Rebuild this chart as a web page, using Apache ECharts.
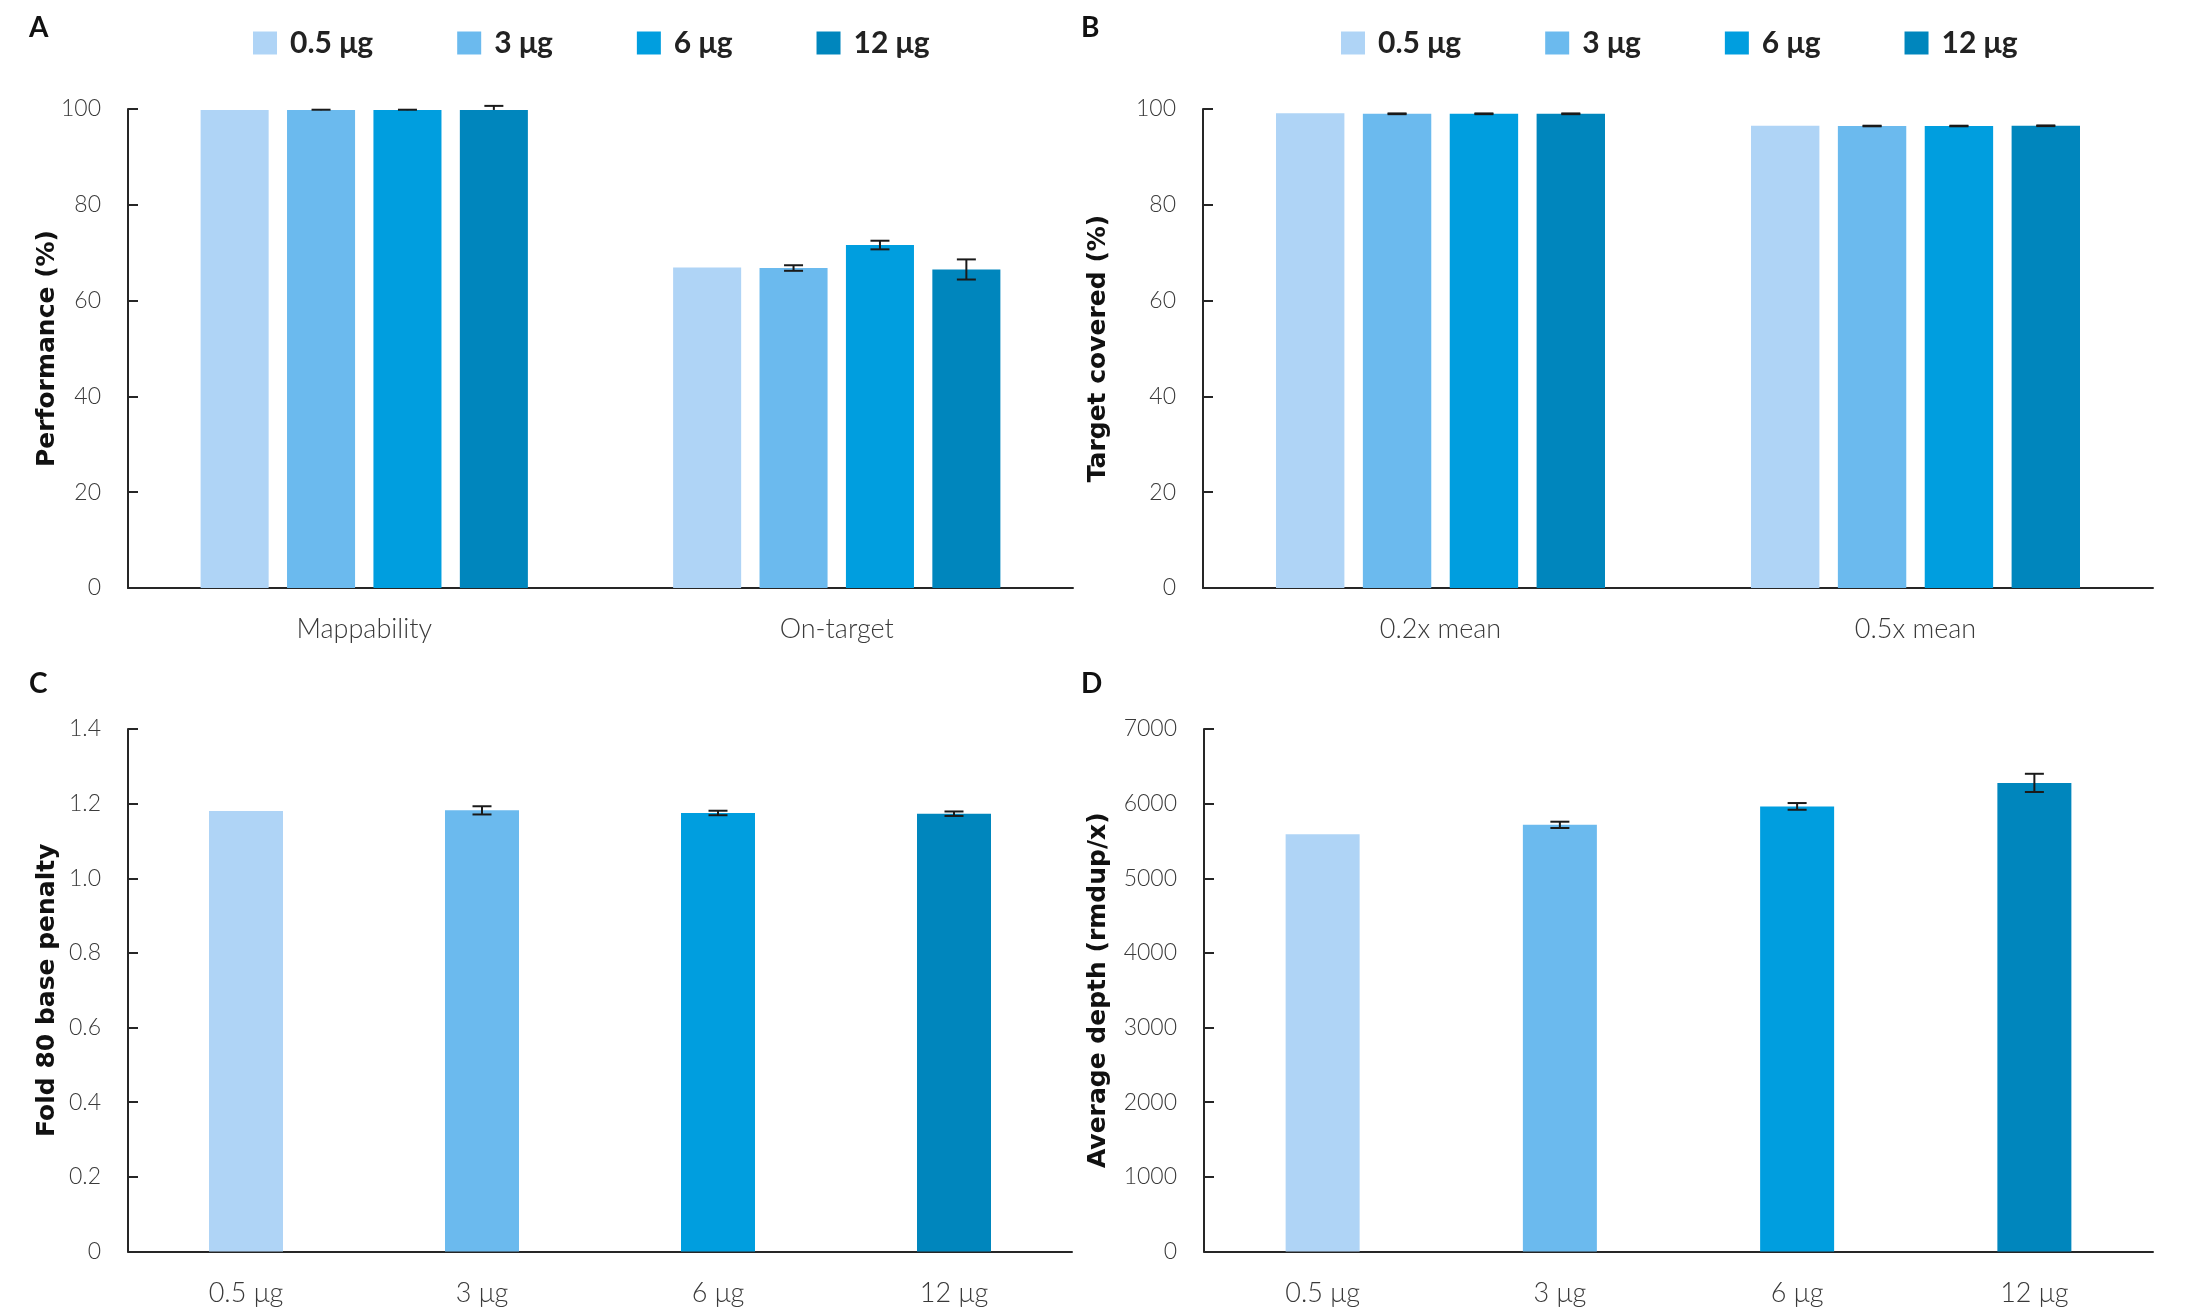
<!DOCTYPE html>
<html><head><meta charset="utf-8">
<script src="https://cdn.jsdelivr.net/npm/echarts@6/dist/echarts.min.js"></script>
<style>html,body{margin:0;padding:0;background:#fff}#c{width:2198px;height:1307px}</style>
</head><body><div id="c"></div>
<script>
// ---------- data ----------
const doses = ['0.5 μg', '3 μg', '6 μg', '12 μg'];
const doseColors = ['#AFD4F6', '#6BBAEE', '#009EDF', '#0086BD'];

// Panel A: Performance (%)
const catA = ['Mappability', 'On-target'];
const valA_05 = [99.8, 66.9];
const valA_3 = [99.8, 66.8];
const valA_6 = [99.8, 71.6];
const valA_12 = [99.8, 66.5];
const errUpA_05 = [0, 0];
const errUpA_3 = [0.05, 0.58];
const errUpA_6 = [0.05, 0.9];
const errUpA_12 = [0.85, 2.1];
const errDnA_05 = [0, 0];
const errDnA_3 = [0.05, 0.58];
const errDnA_6 = [0.05, 0.9];
const errDnA_12 = [0, 2.1];

// Panel B: Target covered (%)
const catB = ['0.2x mean', '0.5x mean'];
const valB_05 = [99.1, 96.5];
const valB_3 = [99.0, 96.45];
const valB_6 = [99.0, 96.45];
const valB_12 = [99.0, 96.5];
const errB_05 = [0, 0];
const errB_3 = [0.08, 0.06];
const errB_6 = [0.08, 0.06];
const errB_12 = [0.08, 0.07];

// Panel C: Fold 80 base penalty
const valC = [1.180, 1.182, 1.175, 1.173];
const errC = [0, 0.011, 0.006, 0.006];

// Panel D: Average depth (rmdup/x)
const valD = [5591, 5716, 5963, 6278];
const errD = [0, 42, 45, 122];

// ---------- helpers ----------
const AXIS_COLOR = '#262626';
const LABEL_COLOR = '#3a3a3a';
const LIGHT = 'Lato, "Liberation Sans", sans-serif';
const BARPCT = 0.144, GAPPCT = 0.27;

function groupedErr(gridIdx, sIdx, nS, vals, up, dn) {
  const data = vals.map((v, i) => [i, v - dn[i], v + up[i], up[i] + dn[i]]).filter(d => d[3] > 0);
  return {
    type: 'custom', xAxisIndex: gridIdx, yAxisIndex: gridIdx, z: 10, clip: false,
    silent: true, tooltip: {show: false},
    data: data,
    encode: {x: 0, y: [1, 2]},
    renderItem: function (params, api) {
      const c = api.value(0);
      const lo = api.coord([c, api.value(1)]);
      const hi = api.coord([c, api.value(2)]);
      const band = api.size([1, 0])[0];
      const bw = band * BARPCT, step = bw * (1 + GAPPCT);
      const x = lo[0] + (sIdx - (nS - 1) / 2) * step;
      const cap = 9.5;
      const st = {stroke: '#1a1a1a', lineWidth: 2};
      const kids = [
        {type: 'line', shape: {x1: x, y1: lo[1], x2: x, y2: hi[1]}, style: st},
        {type: 'line', shape: {x1: x - cap, y1: hi[1], x2: x + cap, y2: hi[1]}, style: st}
      ];
      if (api.value(1) < api.value(2) - 1e-9 && Math.abs(lo[1] - hi[1]) > 0.5 && dn[c] > 0) {
        kids.push({type: 'line', shape: {x1: x - cap, y1: lo[1], x2: x + cap, y2: lo[1]}, style: st});
      }
      return {type: 'group', children: kids};
    }
  };
}
function singleErr(gridIdx, vals, err) {
  const data = vals.map((v, i) => [i, v - err[i], v + err[i], err[i]]).filter(d => d[3] > 0);
  return {
    type: 'custom', xAxisIndex: gridIdx, yAxisIndex: gridIdx, z: 10, clip: false, silent: true,
    data: data, encode: {x: 0, y: [1, 2]},
    renderItem: function (params, api) {
      const c = api.value(0);
      const lo = api.coord([c, api.value(1)]);
      const hi = api.coord([c, api.value(2)]);
      const x = lo[0], cap = 9.5;
      const st = {stroke: '#1a1a1a', lineWidth: 2};
      return {type: 'group', children: [
        {type: 'line', shape: {x1: x, y1: lo[1], x2: x, y2: hi[1]}, style: st},
        {type: 'line', shape: {x1: x - cap, y1: hi[1], x2: x + cap, y2: hi[1]}, style: st},
        {type: 'line', shape: {x1: x - cap, y1: lo[1], x2: x + cap, y2: lo[1]}, style: st}
      ]};
    }
  };
}
function xAx(gridIdx, cats) {
  return {
    type: 'category', gridIndex: gridIdx, data: cats,
    axisLine: {show: true, lineStyle: {color: AXIS_COLOR, width: 2}},
    axisTick: {show: false},
    axisLabel: {margin: 28, fontFamily: LIGHT, fontWeight: 300, fontSize: 27, color: LABEL_COLOR}
  };
}
function yAx(gridIdx, name, max, interval, gap, fmt) {
  return {
    type: 'value', gridIndex: gridIdx, min: 0, max: max, interval: interval,
    name: name, nameLocation: 'middle', nameGap: gap, nameMoveOverlap: false,
    nameTextStyle: {fontFamily: '"DejaVu Sans", sans-serif', fontWeight: 'bold', fontSize: 25, color: '#111'},
    axisLine: {show: true, lineStyle: {color: AXIS_COLOR, width: 2}},
    axisTick: {show: true, inside: true, length: 10, lineStyle: {color: AXIS_COLOR, width: 2}},
    splitLine: {show: false},
    axisLabel: {margin: 27, fontFamily: LIGHT, fontWeight: 300, fontSize: 23, color: LABEL_COLOR, formatter: fmt}
  };
}
const legendBase = {
  data: doses, icon: 'rect', itemWidth: 24, itemHeight: 23, itemGap: 84, top: 28, padding: 0,
  textStyle: {fontFamily: 'Lato, sans-serif', fontWeight: 'bold', fontSize: 30, color: '#222', padding: [0, 0, 0, 8]}
};
const letterStyle = {fontFamily: 'Lato, sans-serif', fontWeight: 'bold', fontSize: 28, color: '#111'};

const valsA = [valA_05, valA_3, valA_6, valA_12];
const upA = [errUpA_05, errUpA_3, errUpA_6, errUpA_12];
const dnA = [errDnA_05, errDnA_3, errDnA_6, errDnA_12];
const valsB = [valB_05, valB_3, valB_6, valB_12];
const errsB = [errB_05, errB_3, errB_6, errB_12];

const series = [];
doses.forEach((d, i) => {
  series.push({name: d, type: 'bar', xAxisIndex: 0, yAxisIndex: 0, data: valsA[i],
    barWidth: (BARPCT * 100) + '%', barGap: (GAPPCT * 100) + '%', itemStyle: {color: doseColors[i]}});
});
doses.forEach((d, i) => {
  series.push({name: d, type: 'bar', xAxisIndex: 1, yAxisIndex: 1, data: valsB[i],
    barWidth: (BARPCT * 100) + '%', barGap: (GAPPCT * 100) + '%', itemStyle: {color: doseColors[i]}});
});
series.push({name: 'Fold 80', type: 'bar', xAxisIndex: 2, yAxisIndex: 2, barWidth: 74,
  data: valC.map((v, i) => ({value: v, itemStyle: {color: doseColors[i]}}))});
series.push({name: 'Depth', type: 'bar', xAxisIndex: 3, yAxisIndex: 3, barWidth: 74,
  data: valD.map((v, i) => ({value: v, itemStyle: {color: doseColors[i]}}))});
doses.forEach((d, i) => series.push(groupedErr(0, i, 4, valsA[i], upA[i], dnA[i])));
doses.forEach((d, i) => series.push(groupedErr(1, i, 4, valsB[i], errsB[i], errsB[i])));
series.push(singleErr(2, valC, errC));
series.push(singleErr(3, valD, errD));

const chart = echarts.init(document.getElementById('c'), null, {renderer: 'canvas'});
chart.setOption({
  animation: false,
  backgroundColor: '#fff',
  title: [
    {text: 'A', left: 29, top: 14, padding: 0, textStyle: letterStyle},
    {text: 'B', left: 1081, top: 14, padding: 0, textStyle: letterStyle},
    {text: 'C', left: 29, top: 670, padding: 0, textStyle: letterStyle},
    {text: 'D', left: 1081, top: 670, padding: 0, textStyle: letterStyle}
  ],
  legend: [
    Object.assign({}, legendBase, {left: 253}),
    Object.assign({}, legendBase, {left: 1341})
  ],
  grid: [
    {left: 128, top: 109, width: 945, height: 479},
    {left: 1203, top: 109, width: 950, height: 479},
    {left: 128, top: 729, width: 944, height: 522.5},
    {left: 1204, top: 729, width: 949, height: 522.5}
  ],
  xAxis: [xAx(0, catA), xAx(1, catB), xAx(2, doses), xAx(3, doses)],
  yAxis: [
    yAx(0, 'Performance (%)', 100, 20, 68),
    yAx(1, 'Target covered (%)', 100, 20, 92),
    yAx(2, 'Fold 80 base penalty', 1.4, 0.2, 68, v => v === 0 ? '0' : v.toFixed(1)),
    yAx(3, 'Average depth (rmdup/x)', 7000, 1000, 93, v => String(v))
  ],
  series: series
});
</script></body></html>
